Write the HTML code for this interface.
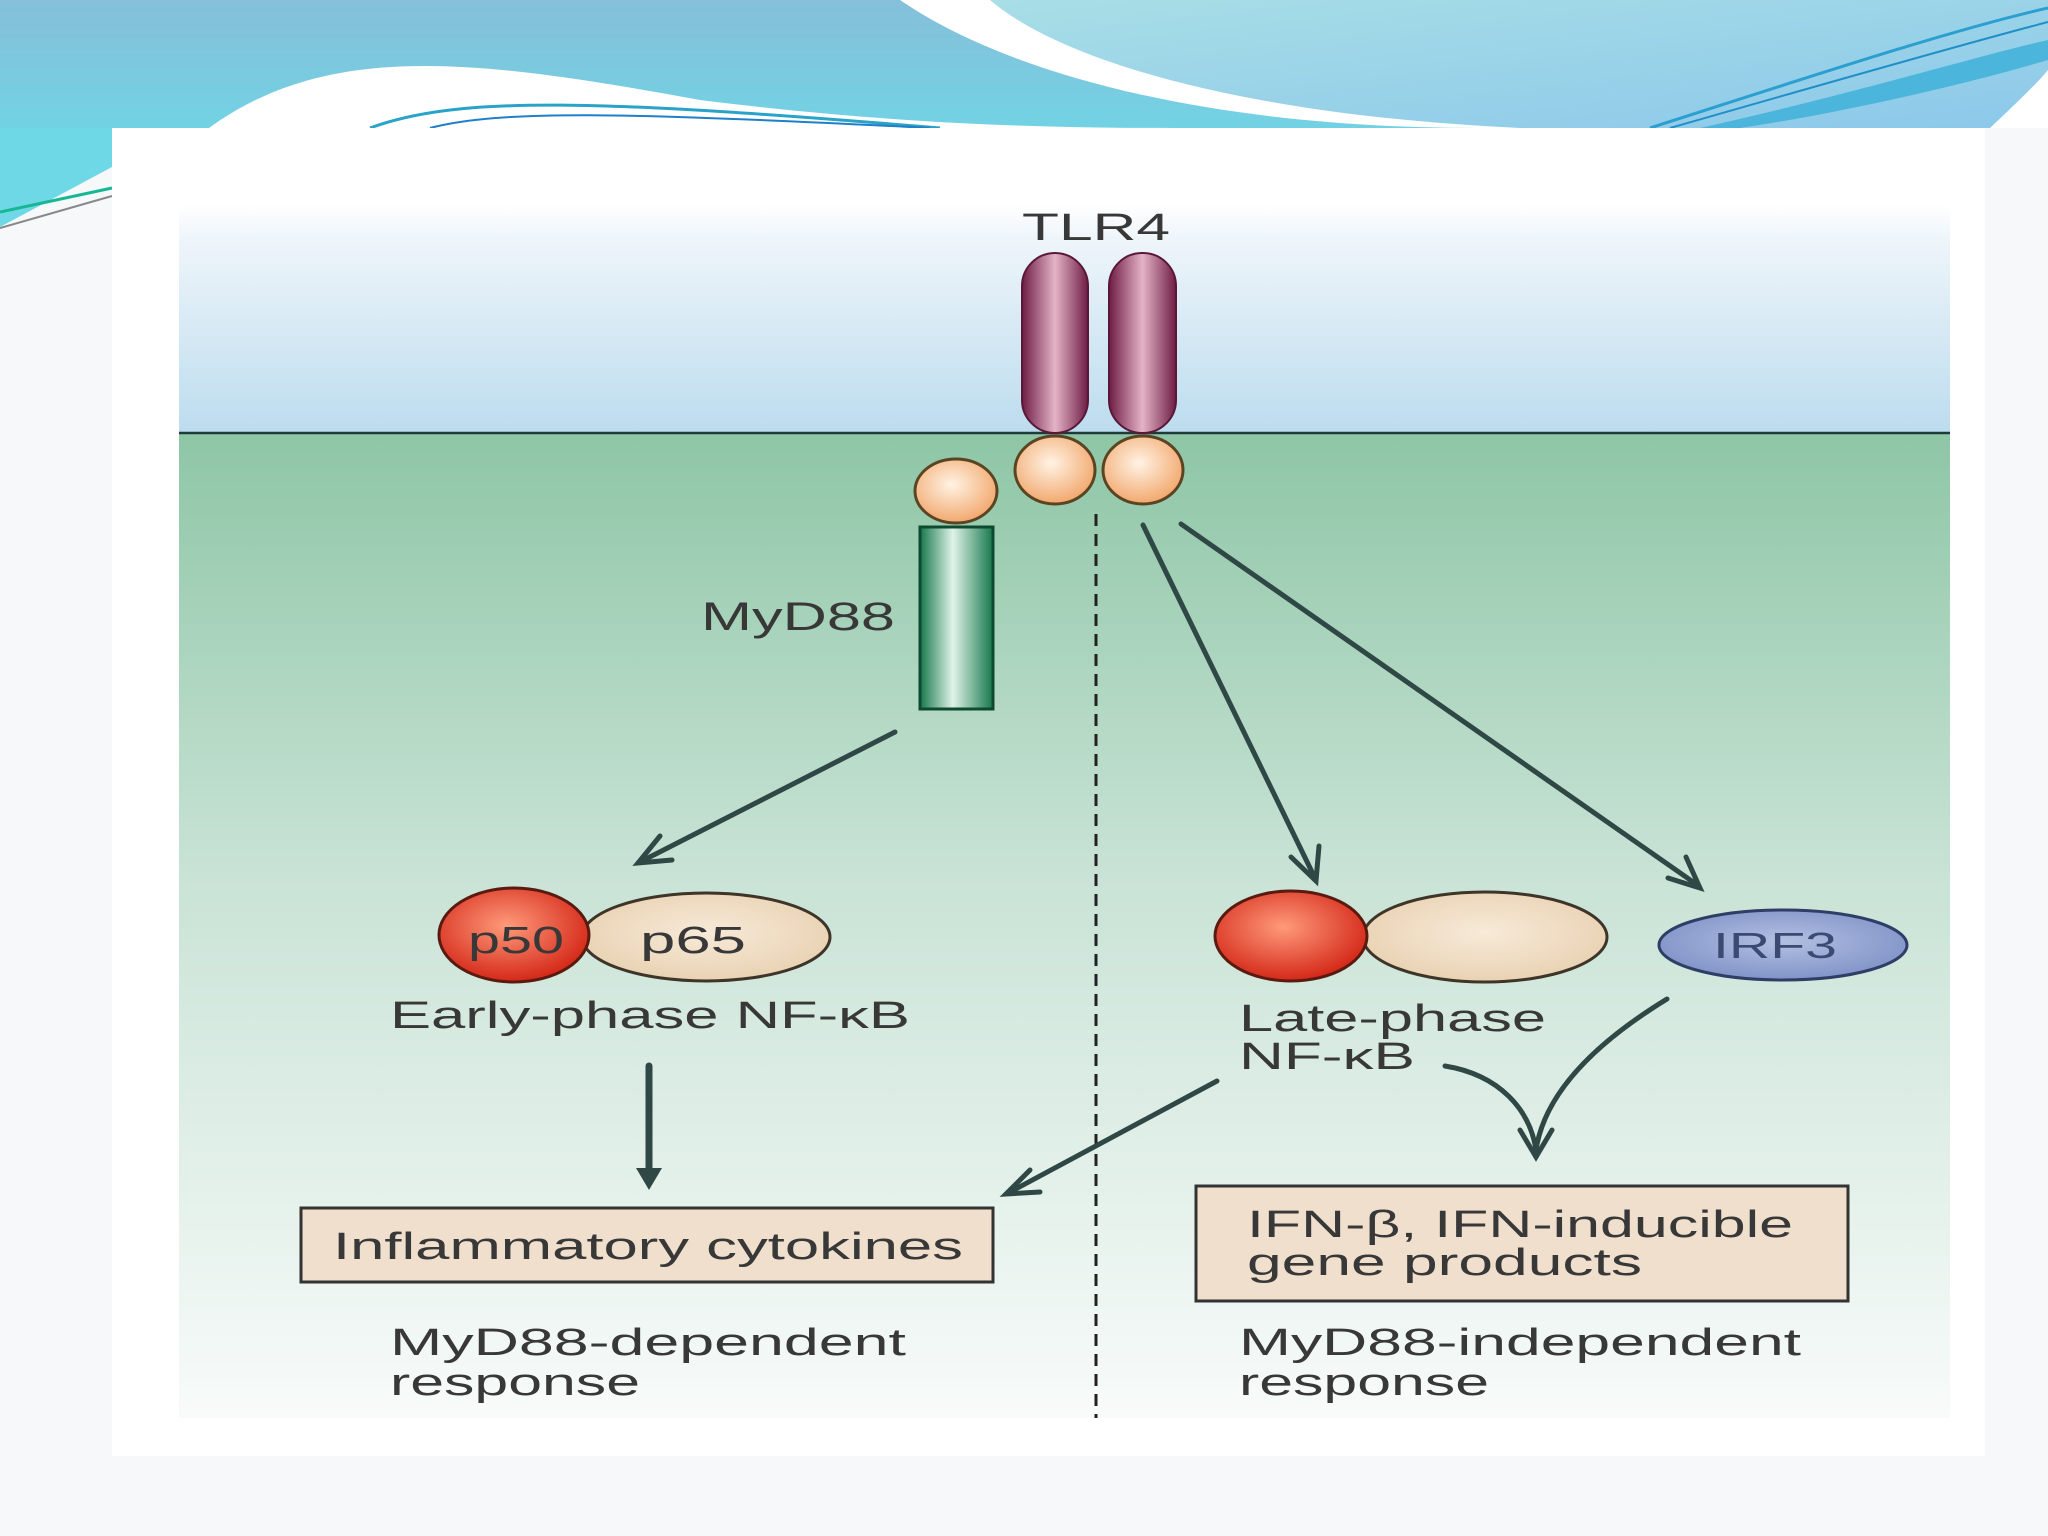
<!DOCTYPE html>
<html><head><meta charset="utf-8"><style>
html,body{margin:0;padding:0;background:#f6f8fa;}
svg{display:block}
text{font-family:"Liberation Sans",sans-serif;fill:#383838;}
</style></head><body>
<svg width="2048" height="1536" viewBox="0 0 2048 1536" xmlns="http://www.w3.org/2000/svg">
<defs>
<linearGradient id="sky" x1="0" y1="0" x2="0" y2="1">
<stop offset="0" stop-color="#86bfd9"/><stop offset="1" stop-color="#72d2e4"/></linearGradient>
<linearGradient id="sky2" x1="0" y1="0" x2="1" y2="1">
<stop offset="0" stop-color="#a9dfe6"/><stop offset="1" stop-color="#8cc8ea"/></linearGradient>
<linearGradient id="topz" x1="0" y1="0" x2="0" y2="1">
<stop offset="0" stop-color="#ffffff"/><stop offset="0.15" stop-color="#eef5fa"/><stop offset="1" stop-color="#bcdcee"/></linearGradient>
<linearGradient id="botz" x1="0" y1="0" x2="0" y2="1">
<stop offset="0" stop-color="#8ec6a6"/><stop offset="0.45" stop-color="#c9e3d6"/><stop offset="1" stop-color="#f8fbfa"/></linearGradient>
<linearGradient id="rod" x1="0" y1="0" x2="1" y2="0">
<stop offset="0" stop-color="#6e1c44"/><stop offset="0.5" stop-color="#e4b3c6"/><stop offset="1" stop-color="#6e1c44"/></linearGradient>
<linearGradient id="grn" x1="0" y1="0" x2="1" y2="0">
<stop offset="0" stop-color="#17784c"/><stop offset="0.45" stop-color="#dff3e8"/><stop offset="1" stop-color="#17784c"/></linearGradient>
<radialGradient id="org" cx="0.45" cy="0.4" r="0.6">
<stop offset="0" stop-color="#fff3e4"/><stop offset="1" stop-color="#f2a86e"/></radialGradient>
<radialGradient id="red" cx="0.45" cy="0.4" r="0.6">
<stop offset="0" stop-color="#ff9a7a"/><stop offset="1" stop-color="#d42818"/></radialGradient>
<radialGradient id="beige" cx="0.5" cy="0.45" r="0.6">
<stop offset="0" stop-color="#f7ead8"/><stop offset="1" stop-color="#e8d0b0"/></radialGradient>
<radialGradient id="blue" cx="0.5" cy="0.45" r="0.6">
<stop offset="0" stop-color="#b3c0e2"/><stop offset="1" stop-color="#7d90c6"/></radialGradient>
</defs>

<!-- header background -->
<rect x="0" y="0" width="2048" height="128" fill="url(#sky)"/>
<polygon points="0,128 112,128 112,167 0,227" fill="#6fd8e6"/>
<path d="M914,0 C1020,70 1220,125 1500,128 L2048,128 L2048,0 Z" fill="url(#sky2)"/>
<path d="M900,0 C1010,75 1210,128 1480,128 L1520,128 C1240,115 1060,60 990,0 Z" fill="#ffffff"/>
<path d="M1990,128 C2020,100 2040,80 2048,70 L2048,128 Z" fill="#ffffff"/>
<path d="M1650,128 C1800,80 1950,30 2048,8" stroke="#2a9fd0" stroke-width="3" fill="none"/>
<path d="M1670,128 C1820,85 1960,45 2048,22" stroke="#1f8fc8" stroke-width="2" fill="none"/>
<path d="M1700,128 C1850,95 1980,55 2048,40 L2048,60 C1980,80 1860,110 1740,128 Z" fill="#4bb5dc"/>
<path d="M209,128 C330,40 480,60 700,100 C900,125 1050,128 1175,128 Z" fill="#ffffff"/>
<path d="M370,128 C460,95 600,100 940,128" stroke="#2aa3c8" stroke-width="3" fill="none"/>
<path d="M430,128 C500,110 620,112 930,128" stroke="#1f7fc8" stroke-width="2" fill="none"/>
<path d="M0,212 L112,188" stroke="#16b894" stroke-width="3"/>
<path d="M0,228 L112,196" stroke="#888" stroke-width="2"/>

<!-- white panel -->
<rect x="112" y="128" width="1873" height="1328" fill="#ffffff"/>

<!-- diagram zones -->
<rect x="179" y="205" width="1771" height="228" fill="url(#topz)"/>
<rect x="179" y="433" width="1771" height="985" fill="url(#botz)"/>
<line x1="179" y1="433" x2="1950" y2="433" stroke="#1e3a3a" stroke-width="2.5"/>

<!-- dashed divider -->
<line x1="1096" y1="514" x2="1096" y2="1418" stroke="#222" stroke-width="3" stroke-dasharray="12,8"/>

<!-- TLR4 -->
<text x="1022" y="240" font-size="38" textLength="148" lengthAdjust="spacingAndGlyphs">TLR4</text>
<rect x="1022" y="253" width="66" height="180" rx="33" fill="url(#rod)" stroke="#5a1838" stroke-width="2"/>
<rect x="1109" y="253" width="67" height="180" rx="33" fill="url(#rod)" stroke="#5a1838" stroke-width="2"/>
<ellipse cx="1055" cy="470" rx="40" ry="34" fill="url(#org)" stroke="#5a4422" stroke-width="3"/>
<ellipse cx="1143" cy="470" rx="40" ry="34" fill="url(#org)" stroke="#5a4422" stroke-width="3"/>
<ellipse cx="956" cy="491" rx="41" ry="32" fill="url(#org)" stroke="#5a4422" stroke-width="3"/>

<!-- MyD88 -->
<rect x="920" y="527" width="73" height="182" fill="url(#grn)" stroke="#0e4a30" stroke-width="3"/>
<text x="701" y="630" font-size="40" textLength="194" lengthAdjust="spacingAndGlyphs">MyD88</text>

<g stroke="#2f4846" stroke-width="5" fill="none" stroke-linecap="round">
<line x1="895" y1="732" x2="642" y2="861"/>
<polyline points="660,836 638,863 672,860"/>
<line x1="649" y1="1066" x2="649" y2="1180" stroke-width="7"/>
<line x1="1143" y1="525" x2="1313" y2="874"/>
<polyline points="1291,857 1316,881 1319,846"/>
<line x1="1181" y1="524" x2="1696" y2="884"/>
<polyline points="1668,878 1700,888 1686,857"/>
<line x1="1217" y1="1081" x2="1010" y2="1192"/>
<polyline points="1030,1170 1006,1194 1040,1192"/>
<path d="M1445,1066 C1500,1075 1530,1110 1536,1150"/>
<path d="M1667,999 C1600,1040 1545,1090 1536,1150"/>
<polyline points="1520,1130 1536,1157 1552,1130"/>
</g>
<polygon points="649,1190 636,1168 662,1168" fill="#2f4846"/>

<!-- early NF-kB -->
<ellipse cx="706" cy="937" rx="124" ry="44" fill="url(#beige)" stroke="#3f3428" stroke-width="3"/>
<ellipse cx="514" cy="935" rx="75" ry="47" fill="url(#red)" stroke="#5a1a10" stroke-width="3"/>
<text x="468" y="953" font-size="38" textLength="96" lengthAdjust="spacingAndGlyphs">p50</text>
<text x="640" y="953" font-size="38" textLength="106" lengthAdjust="spacingAndGlyphs">p65</text>
<text x="390" y="1028" font-size="38" textLength="520" lengthAdjust="spacingAndGlyphs">Early-phase NF-κB</text>

<rect x="301" y="1208" width="692" height="74" fill="#efdfcc" stroke="#333" stroke-width="3"/>
<text x="333" y="1259" font-size="38" textLength="630" lengthAdjust="spacingAndGlyphs">Inflammatory cytokines</text>
<text x="390" y="1355" font-size="38" textLength="516" lengthAdjust="spacingAndGlyphs">MyD88-dependent</text>
<text x="390" y="1395" font-size="38" textLength="250" lengthAdjust="spacingAndGlyphs">response</text>

<ellipse cx="1485" cy="937" rx="122" ry="45" fill="url(#beige)" stroke="#3f3428" stroke-width="3"/>
<ellipse cx="1291" cy="936" rx="76" ry="45" fill="url(#red)" stroke="#5a1a10" stroke-width="3"/>
<ellipse cx="1783" cy="945" rx="124" ry="35" fill="url(#blue)" stroke="#2e3e66" stroke-width="3"/>
<text x="1713" y="958" font-size="36" textLength="124" lengthAdjust="spacingAndGlyphs" style="fill:#3a4a72">IRF3</text>
<text x="1239" y="1031" font-size="38" textLength="307" lengthAdjust="spacingAndGlyphs">Late-phase</text>
<text x="1239" y="1069" font-size="38" textLength="176" lengthAdjust="spacingAndGlyphs">NF-κB</text>

<rect x="1196" y="1186" width="652" height="115" fill="#efdfcc" stroke="#333" stroke-width="3"/>
<text x="1247" y="1237" font-size="38" textLength="546" lengthAdjust="spacingAndGlyphs">IFN-β, IFN-inducible</text>
<text x="1247" y="1275" font-size="38" textLength="395" lengthAdjust="spacingAndGlyphs">gene products</text>
<text x="1239" y="1355" font-size="38" textLength="562" lengthAdjust="spacingAndGlyphs">MyD88-independent</text>
<text x="1239" y="1395" font-size="38" textLength="250" lengthAdjust="spacingAndGlyphs">response</text>
</svg>
</body></html>
